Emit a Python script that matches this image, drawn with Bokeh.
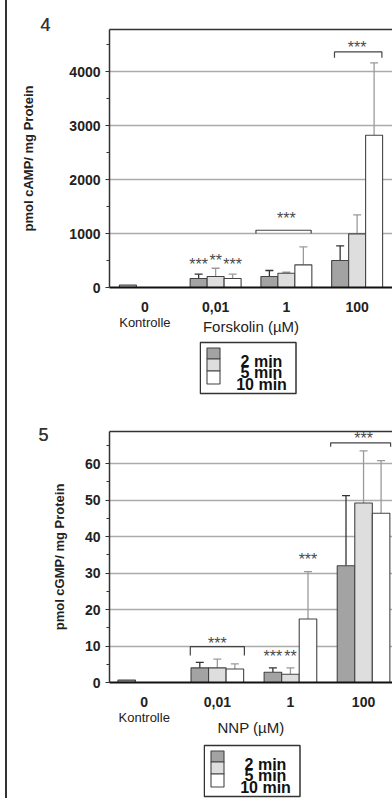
from bokeh.plotting import figure
from bokeh.models import (FixedTicker, LinearAxis, Whisker, TeeHead,
                          ColumnDataSource, Range1d, Spacer)
from bokeh.layouts import column, row
from bokeh.core.properties import value
from bokeh.embed import file_html
from bokeh.resources import INLINE

# ---------------- data ----------------
groups = ["0", "0,01", "1", "100"]
series = ["2 min", "5 min", "10 min"]

# Panel 4: cAMP (pmol / mg protein), Forskolin
camp_2 = [45, 167, 204, 500]
camp_5 = [0, 204, 265, 994]
camp_10 = [0, 167, 420, 2820]
camp_2_sd = [0, 79, 111, 272]
camp_5_sd = [0, 153, 18, 352]
camp_10_sd = [0, 79, 334, 1341]

# Panel 5: cGMP (pmol / mg protein), NNP
cgmp_2 = [0.64, 4.0, 2.8, 32.0]
cgmp_5 = [0.0, 4.0, 2.25, 49.2]
cgmp_10 = [0.0, 3.7, 17.4, 46.4]
cgmp_2_sd = [0, 1.5, 1.2, 19.2]
cgmp_5_sd = [0, 2.4, 1.75, 14.3]
cgmp_10_sd = [0, 1.4, 13.0, 14.4]

# significance marks: (group index, series index, level, text)
camp_stars = [(1, 0, 422, "***"), (1, 1, 496, "**"), (1, 2, 422, "***"),
              (2, None, 1274, "***"), (3, None, 4454, "***")]
camp_brackets = [(2, -0.43, 0.35, 1061, 1000), (3, -0.32, 0.35, 4365, 4259)]
cgmp_stars = [(1, None, 10.72, "***"), (2, 0, 7.08, "***"), (2, 1, 7.08, "**"),
              (2, 2, 33.62, "***"), (3, None, 66.94, "***")]
cgmp_brackets = [(1, -0.37, 0.37, 9.84, 7.4), (3, -0.45, 0.37, 65.7, 64.6)]

FONT = "Liberation Sans"
fills = ["#a3a3a3", "#dedede", "#ffffff"]
err_colors = ["#333333", "#9a9a9a", "#9a9a9a"]
BW = 0.24
offsets = [-BW, 0.0, BW]


def build(means, sds, stars, brackets, y_end, major, minor, ylabel, xlabel,
          x_start, x_end, width, height, border_left, border_top,
          ylabel_standoff, xlabel_standoff, kontrolle_standoff, panel_no,
          num_offset, num_standoff):
    p = figure(output_backend="svg", toolbar_location=None,
               width=width, height=height,
               x_range=Range1d(x_start, x_end), y_range=Range1d(0, y_end),
               min_border_left=border_left, min_border_right=0,
               min_border_top=border_top, min_border_bottom=50)
    p.outline_line_color = None
    p.background_fill_color = "white"
    p.border_fill_color = None
    p.xgrid.visible = False
    p.ygrid.ticker = FixedTicker(ticks=major)
    p.ygrid.grid_line_color = "#ababab"
    p.ygrid.grid_line_width = 1.3

    centers = [i + 0.5 for i in range(len(groups))]
    for k, (m, sd) in enumerate(zip(means, sds)):
        xs = [c + offsets[k] for c in centers]
        p.vbar(x=xs, top=m, bottom=0, width=BW, fill_color=fills[k],
               line_color="#444444", line_width=1.1)
        wx = [x for x, s in zip(xs, sd) if s > 0]
        wl = [v for v, s in zip(m, sd) if s > 0]
        wu = [v + s for v, s in zip(m, sd) if s > 0]
        src = ColumnDataSource(dict(x=wx, lower=wl, upper=wu))
        w = Whisker(source=src, base="x", lower="lower", upper="upper",
                    line_color=err_colors[k], line_width=1.3, lower_head=None,
                    upper_head=TeeHead(size=8, line_color=err_colors[k], line_width=1.3))
        p.add_layout(w)

    bx, by = [], []
    for g, a, b, yt, yb in brackets:
        c = centers[g]
        bx.append([c + a, c + a, c + b, c + b])
        by.append([yb, yt, yt, yb])
    p.multi_line(xs=bx, ys=by, line_color="#444444", line_width=1.2)

    sx, sy, st = [], [], []
    for g, k, lvl, t in stars:
        c = centers[g] + (offsets[k] if k is not None else 0)
        sx.append(c)
        sy.append(lvl)
        st.append(t)
    p.text(x=sx, y=sy, text=st, text_align="center", text_baseline="alphabetic",
           text_font=value(FONT), text_font_size="16px", text_color="#4a4a4a")

    ya = p.yaxis[0]
    ya.ticker = FixedTicker(ticks=major, minor_ticks=minor)
    ya.axis_line_color = "#333333"
    ya.axis_line_width = 1.5
    ya.major_tick_line_color = "#333333"
    ya.minor_tick_line_color = "#333333"
    ya.major_tick_out = 4
    ya.major_tick_in = 0
    ya.minor_tick_out = 3
    ya.minor_tick_in = 0
    ya.major_label_standoff = 5
    ya.major_label_text_font = FONT
    ya.major_label_text_font_style = "bold"
    ya.major_label_text_font_size = "14px"
    ya.major_label_text_color = "#222222"
    ya.axis_label = ylabel
    ya.axis_label_text_font = FONT
    ya.axis_label_text_font_style = "bold"
    ya.axis_label_text_font_size = "13px"
    ya.axis_label_text_color = "#222222"
    ya.axis_label_standoff = ylabel_standoff

    xa = p.xaxis[0]
    xa.ticker = FixedTicker(ticks=centers)
    xa.major_label_overrides = {c: g for c, g in zip(centers, groups)}
    xa.axis_line_color = "#111111"
    xa.axis_line_width = 2
    xa.major_tick_line_color = None
    xa.minor_tick_line_color = None
    xa.major_label_standoff = 8
    xa.major_label_text_font = FONT
    xa.major_label_text_font_style = "bold"
    xa.major_label_text_font_size = "14px"
    xa.major_label_text_color = "#222222"

    xb = LinearAxis(ticker=FixedTicker(ticks=[centers[0]]),
                    major_label_overrides={centers[0]: "Kontrolle"})
    xb.axis_line_color = None
    xb.major_tick_line_color = None
    xb.minor_tick_line_color = None
    xb.major_label_standoff = kontrolle_standoff
    xb.major_label_text_font = FONT
    xb.major_label_text_font_size = "13px"
    xb.major_label_text_color = "#222222"
    xb.axis_label = xlabel
    xb.axis_label_text_font = FONT
    xb.axis_label_text_font_style = "normal"
    xb.axis_label_text_font_size = "15px"
    xb.axis_label_text_color = "#222222"
    xb.axis_label_standoff = xlabel_standoff
    p.add_layout(xb, "below")

    top = LinearAxis(ticker=FixedTicker(ticks=[]))
    top.axis_line_color = "#333333"
    top.axis_line_width = 1.5
    top.major_tick_line_color = None
    top.minor_tick_line_color = None
    top.major_label_text_font_size = "0px"
    top.major_label_standoff = 0
    p.title.text = panel_no
    p.title.align = "left"
    p.title.offset = num_offset
    p.title.standoff = num_standoff
    p.title.text_font = FONT
    p.title.text_font_style = "normal"
    p.title.text_font_size = "18px"
    p.title.text_color = "#333333"
    p.above = [top, p.title]
    return p


def legend_fig(width, height, top_off):
    lg = figure(output_backend="svg", toolbar_location=None,
                width=width, height=height,
                x_range=Range1d(0, width), y_range=Range1d(height, 0),
                min_border=0, x_axis_location=None, y_axis_location=None)
    lg.grid.visible = False
    lg.outline_line_color = None
    lg.background_fill_color = "white"
    lg.border_fill_color = None
    box_w, box_h = 96.5, 51
    lg.quad(left=[0.75], right=[box_w], top=[top_off], bottom=[top_off + box_h],
            fill_color="white", line_color="#333333", line_width=1.5)
    row_top = [5.5, 16.5, 28.5]
    row_bot = [16.5, 28.5, 41.5]
    base = [18.5, 30.0, 42.0]
    lg.quad(left=[7.5] * 3, right=[20.5] * 3,
            top=[top_off + v for v in row_top], bottom=[top_off + v for v in row_bot],
            fill_color=fills, line_color="#444444", line_width=1.1)
    lg.text(x=[62] * 3, y=[top_off + b for b in base], text=series,
            text_align="center", text_baseline="alphabetic",
            text_font=value(FONT), text_font_style="bold", text_font_size="16px",
            text_color="#111111")
    return lg


p1 = build([camp_2, camp_5, camp_10], [camp_2_sd, camp_5_sd, camp_10_sd],
           camp_stars, camp_brackets, 4781, [0, 1000, 2000, 3000, 4000],
           [500, 1500, 2500, 3500, 4500], "pmol cAMP/ mg Protein", "Forskolin (µM)",
           0.0, 4.0, 392, 337, 104, 29, 30, -15, -6, "4", -69, -11)
p2 = build([cgmp_2, cgmp_5, cgmp_10], [cgmp_2_sd, cgmp_5_sd, cgmp_10_sd],
           cgmp_stars, cgmp_brackets, 68.8, [0, 10, 20, 30, 40, 50, 60],
           [5, 15, 25, 35, 45, 55, 65], "pmol cGMP/ mg Protein", "NNP (µM)",
           0.025, 3.896, 392, 343, 109, 36, 15, -9, -6, "5", -71, -19)
leg1 = legend_fig(98, 58, 5)
leg2 = legend_fig(98, 60, 7)

layout = column(p1, row(Spacer(width=199, height=58), leg1, spacing=0), p2,
                row(Spacer(width=203, height=60), leg2, spacing=0), spacing=0,
                styles={"background-image":
                        "linear-gradient(to right, transparent 5px, #333333 5px, "
                        "#333333 7px, transparent 7px)"})
open("out.html", "w").write(file_html(layout, INLINE))
